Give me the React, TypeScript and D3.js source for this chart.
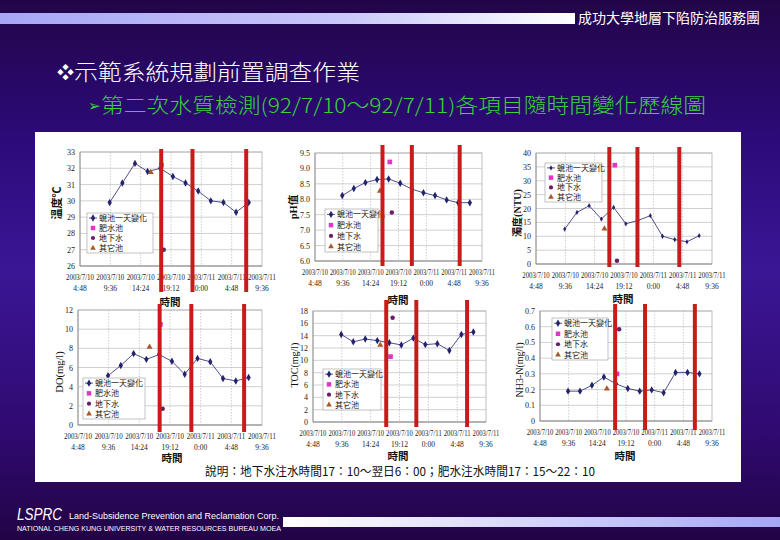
import React from 'react';
import * as d3 from 'd3';

// ---- data ----
const TIMES = [9.5, 11.5, 13.5, 15.5, 17.5, 19.5, 21.5, 23.5, 25.5, 27.5, 29.5, 31.5]; // hours since 2003/7/10 0:00
const X_TICKS = [4.8, 9.6, 14.4, 19.2, 24, 28.8, 33.6];
const X_TICK_DATES = ['2003/7/10', '2003/7/10', '2003/7/10', '2003/7/10', '2003/7/11', '2003/7/11', '2003/7/11'];
const X_TICK_TIMES = ['4:48', '9:36', '14:24', '19:12', '0:00', '4:48', '9:36'];
const SPECIAL_TIMES = [17.7, 18.05, 16.0]; // 肥水池, 地下水, 其它池
const SERIES_NAMES = ['蜆池一天變化', '肥水池', '地下水', '其它池'];

const TEMP = [29.9, 31.1, 32.3, 31.8, 32.0, 31.5, 31.1, 30.6, 30.0, 29.9, 29.3, 29.9];
const TEMP_SPECIAL = [32.2, 27.0, 31.75];
const TEMP_BARS = [17.65, 22.6, 31.1];
const TEMP_TICKS = [26, 27, 28, 29, 30, 31, 32, 33];

const PH = [8.12, 8.35, 8.54, 8.64, 8.66, 8.52, 8.33, 8.21, 8.12, 7.98, 7.89, 7.89];
const PH_SPECIAL = [9.21, 7.57, 8.27];
const PH_BARS = [16.44, 21.5, 29.75];
const PH_TICKS = [6.0, 6.5, 7.0, 7.5, 8.0, 8.5, 9.0, 9.5];

const TURB = [12.6, 18.6, 21.0, 16.2, 20.4, 14.5, 15.7, 17.4, 10.0, 8.8, 8.0, 10.2];
const TURB_SPECIAL = [35.6, 1.2, 12.7];
const TURB_BARS = [16.8, 21.4, 28.25];
const TURB_TICKS = [0, 5, 10, 15, 20, 25, 30, 35, 40];

const DO_VALUES = [5.15, 6.2, 7.45, 6.85, 7.35, 6.65, 5.3, 6.95, 6.6, 4.85, 4.6, 4.95];
const DO_SPECIAL = [10.5, 1.7, 8.15];
const DO_BARS = [17.58, 22.54, 30.8];
const DO_TICKS = [0, 2, 4, 6, 8, 10, 12];

const TOC = [14.2, 13.0, 13.45, 13.2, 12.85, 12.5, 13.6, 12.55, 12.7, 11.6, 14.2, 14.6];
const TOC_SPECIAL = [10.6, 16.9, 12.5];
const TOC_BARS = [16.99, 22.0, 30.45];
const TOC_TICKS = [0, 2, 4, 6, 8, 10, 12, 14, 16, 18];

const NH3 = [0.19, 0.19, 0.227, 0.28, 0.237, 0.207, 0.19, 0.198, 0.18, 0.309, 0.309, 0.30];
const NH3_SPECIAL = [0.30, 0.584, 0.205];
const NH3_BARS = [17.38, 22.39, 30.73];
const NH3_TICKS = [0, 0.1, 0.2, 0.3, 0.4, 0.5, 0.6, 0.7];

const TITLE = '示範系統規劃前置調查作業';
const SUBTITLE = '第二次水質檢測(92/7/10～92/7/11)各項目隨時間變化歷線圖';
const HEADER = '成功大學地層下陷防治服務團';
const NOTE = '說明：地下水注水時間17：10～翌日6：00；肥水注水時間17：15～22：10';

const SERIF = "'Liberation Serif', 'Noto Sans CJK TC', serif";
const CJK = "'Noto Sans CJK TC', sans-serif";
const SANS = "'Liberation Sans', Arial, sans-serif";

const LINE_COLOR = '#23236e';
const PINK = '#e234c6';
const PURPLE = '#6a1d6a';
const BROWN = '#a85a2a';
const RED = '#c81c1c';

type ChartCfg = {
  values: number[];
  special: number[];
  bars: number[];
  ticks: number[];
  fmt: (v: number) => string;
  plot: { l: number; r: number; t: number; b: number };
  ylabel: { x: number; y: number; text: string; size: number; bold: boolean };
  legend: { x: number; y: number; w: number; h: number };
  barY: [number, number];
  xTitle: { x: number; y: number };
  marker: number;
};

const CHARTS: ChartCfg[] = [
  {
    values: TEMP, special: TEMP_SPECIAL, bars: TEMP_BARS, ticks: TEMP_TICKS, fmt: (v) => String(v),
    plot: { l: 80, r: 262, t: 152, b: 266 },
    ylabel: { x: 57, y: 203, text: '溫度℃', size: 11, bold: true },
    legend: { x: 87, y: 213, w: 66, h: 40 }, barY: [149, 292], xTitle: { x: 170, y: 302 }, marker: 16,
  },
  {
    values: PH, special: PH_SPECIAL, bars: PH_BARS, ticks: PH_TICKS, fmt: d3.format('.1f'),
    plot: { l: 315, r: 482, t: 153, b: 261 },
    ylabel: { x: 293, y: 207, text: 'pH值', size: 10.5, bold: true },
    legend: { x: 325, y: 209, w: 53, h: 43 }, barY: [145, 266], xTitle: { x: 398, y: 300 }, marker: 16,
  },
  {
    values: TURB, special: TURB_SPECIAL, bars: TURB_BARS, ticks: TURB_TICKS, fmt: (v) => String(v),
    plot: { l: 536, r: 712, t: 153, b: 264 },
    ylabel: { x: 517, y: 213, text: '濁度(NTU)', size: 10, bold: true },
    legend: { x: 545, y: 163, w: 57, h: 39 }, barY: [147, 267], xTitle: { x: 623, y: 299 }, marker: 8,
  },
  {
    values: DO_VALUES, special: DO_SPECIAL, bars: DO_BARS, ticks: DO_TICKS, fmt: (v) => String(v),
    plot: { l: 78, r: 262, t: 310, b: 425 },
    ylabel: { x: 59, y: 372, text: 'DO(mg/l)', size: 10.5, bold: false },
    legend: { x: 83, y: 378, w: 62, h: 41 }, barY: [304, 432], xTitle: { x: 172, y: 458 }, marker: 16,
  },
  {
    values: TOC, special: TOC_SPECIAL, bars: TOC_BARS, ticks: TOC_TICKS, fmt: (v) => String(v),
    plot: { l: 313, r: 486, t: 311, b: 422 },
    ylabel: { x: 294, y: 365, text: 'TOC(mg/l)', size: 10, bold: false },
    legend: { x: 323, y: 369, w: 58, h: 41 }, barY: [300, 427], xTitle: { x: 398, y: 456 }, marker: 16,
  },
  {
    values: NH3, special: NH3_SPECIAL, bars: NH3_BARS, ticks: NH3_TICKS, fmt: (v) => (v === 0 ? '0' : d3.format('.1f')(v)),
    plot: { l: 540, r: 712, t: 311, b: 421 },
    ylabel: { x: 519, y: 370, text: 'NH3-N(mg/l)', size: 10, bold: false },
    legend: { x: 552, y: 318, w: 56, h: 42 }, barY: [304, 430], xTitle: { x: 625, y: 456 }, marker: 16,
  },
];

const SPECIAL_SYMBOLS = [d3.symbolSquare, d3.symbolCircle, d3.symbolTriangle];
const SPECIAL_COLORS = [PINK, PURPLE, BROWN];

function Chart({ cfg }: { cfg: ChartCfg }) {
  const { plot } = cfg;
  const x = d3.scaleLinear().domain([X_TICKS[0], X_TICKS[X_TICKS.length - 1]]).range([plot.l, plot.r]);
  const y = d3.scaleLinear().domain([cfg.ticks[0], cfg.ticks[cfg.ticks.length - 1]]).range([plot.b, plot.t]);
  const line = d3.line<number>().x((_, i) => x(TIMES[i])).y((v) => y(v));
  const diamond = d3.symbol().type(d3.symbolDiamond).size(cfg.marker)() || '';
  const lg = cfg.legend;
  const rowH = lg.h / 4;
  const step = x(X_TICKS[1]) - x(X_TICKS[0]);
  const dateLen = Math.min(28, step - 2);
  return (
    <g>
      {cfg.ticks.map((t, i) => (
        <line key={'h' + i} x1={plot.l} x2={plot.r} y1={y(t)} y2={y(t)} stroke="#c4c4c4" strokeWidth={0.8} />
      ))}
      {X_TICKS.slice(1, -1).map((t, i) => (
        <line key={'v' + i} x1={x(t)} x2={x(t)} y1={plot.t} y2={plot.b} stroke="#b8b8b8" strokeWidth={0.7} strokeDasharray="1.5,1.5" />
      ))}
      <rect x={plot.l} y={plot.t} width={plot.r - plot.l} height={plot.b - plot.t} fill="none" stroke="#b0b0b0" strokeWidth={0.8} />
      <line x1={plot.l} x2={plot.l} y1={plot.t} y2={plot.b} stroke="#888" strokeWidth={0.8} />
      <line x1={plot.l} x2={plot.r} y1={plot.b} y2={plot.b} stroke="#888" strokeWidth={0.8} />
      {cfg.ticks.map((t, i) => (
        <text key={'yt' + i} x={plot.l - 5} y={y(t) + 3} fontSize={8} fontFamily={SERIF} textAnchor="end" fill="#222">
          {cfg.fmt(t)}
        </text>
      ))}
      {X_TICKS.map((t, i) => (
        <g key={'xt' + i}>
          <text x={x(t) - dateLen / 2} y={plot.b + 14} fontSize={7.5} fontFamily={SERIF} fill="#222"
            textLength={dateLen} lengthAdjust="spacingAndGlyphs">{X_TICK_DATES[i]}</text>
          <text x={x(t)} y={plot.b + 24.5} fontSize={7.5} fontFamily={SERIF} textAnchor="middle" fill="#222">{X_TICK_TIMES[i]}</text>
        </g>
      ))}
      <path d={line(cfg.values) || ''} fill="none" stroke={LINE_COLOR} strokeWidth={0.8} />
      {cfg.values.map((v, i) => (
        <path key={'m' + i} d={diamond} transform={`translate(${x(TIMES[i])},${y(v)})`} fill={LINE_COLOR} />
      ))}
      {cfg.special.map((v, i) => (
        <path key={'s' + i} d={d3.symbol().type(SPECIAL_SYMBOLS[i]).size(i === 0 ? 22 : 16)() || ''}
          transform={`translate(${x(SPECIAL_TIMES[i])},${y(v)})`} fill={SPECIAL_COLORS[i]} />
      ))}
      <rect x={lg.x} y={lg.y} width={lg.w} height={lg.h} fill="#fff" stroke="#a8a8a8" strokeWidth={0.7} />
      {SERIES_NAMES.map((name, i) => {
        const cy = lg.y + rowH * (i + 0.5);
        const mx = lg.x + 6;
        return (
          <g key={'lg' + i}>
            {i === 0 ? (
              <g>
                <line x1={mx - 4} x2={mx + 4} y1={cy} y2={cy} stroke={LINE_COLOR} strokeWidth={0.8} />
                <path d={diamond} transform={`translate(${mx},${cy})`} fill={LINE_COLOR} />
              </g>
            ) : (
              <path d={d3.symbol().type(SPECIAL_SYMBOLS[i - 1]).size(i === 1 ? 20 : 14)() || ''}
                transform={`translate(${mx},${cy})`} fill={SPECIAL_COLORS[i - 1]} />
            )}
            <text x={mx + 6} y={cy + 3} fontSize={8} fontFamily={CJK} fill="#111">{name}</text>
          </g>
        );
      })}
      {cfg.bars.map((t, i) => (
        <rect key={'b' + i} x={x(t) - 2} y={cfg.barY[0]} width={4} height={cfg.barY[1] - cfg.barY[0]} fill={RED} />
      ))}
      <text x={cfg.xTitle.x} y={cfg.xTitle.y + 4} fontSize={10.5} fontWeight="bold" fontFamily={CJK} textAnchor="middle" fill="#111">時間</text>
      <text transform={`translate(${cfg.ylabel.x},${cfg.ylabel.y}) rotate(-90)`} y={4} fontSize={cfg.ylabel.size}
        fontWeight={cfg.ylabel.bold ? 'bold' : 'normal'} fontFamily={SERIF} textAnchor="middle" fill="#111">
        {cfg.ylabel.text}
      </text>
    </g>
  );
}

export default function App() {
  return (
    <svg width={780} height={540} style={{ position: 'fixed', left: 0, top: 0 }} xmlns="http://www.w3.org/2000/svg">
      <defs>
        <linearGradient id="bg" x1="0" y1="0" x2="0" y2="1">
          <stop offset="0" stopColor="#220548" />
          <stop offset="0.25" stopColor="#2c0a78" />
          <stop offset="0.5" stopColor="#3a1696" />
          <stop offset="0.8" stopColor="#300a70" />
          <stop offset="1" stopColor="#220346" />
        </linearGradient>
        <linearGradient id="hdr" x1="0" y1="0" x2="1" y2="0">
          <stop offset="0" stopColor="#a6a6f6" />
          <stop offset="0.6" stopColor="#c8c8fa" />
          <stop offset="1" stopColor="#ffffff" />
        </linearGradient>
        <linearGradient id="ftr" x1="0" y1="0" x2="1" y2="0">
          <stop offset="0" stopColor="#ffffff" />
          <stop offset="0.5" stopColor="#d4d4fa" />
          <stop offset="1" stopColor="#a6a6f6" />
        </linearGradient>
      </defs>
      <rect x={0} y={0} width={780} height={540} fill="url(#bg)" />
      <rect x={0} y={13} width={575} height={11} fill="url(#hdr)" />
      <text x={578} y={23} fontSize={14} fontFamily={CJK} fill="#fff" textLength={182} lengthAdjust="spacingAndGlyphs">{HEADER}</text>
      <text x={57} y={80} fontSize={22} fontFamily={CJK} fontWeight={300} fill="#fff">
        <tspan fontSize={17} dy={-1}>❖</tspan>
        <tspan dy={1} textLength={286} lengthAdjust="spacingAndGlyphs">{TITLE}</tspan>
      </text>
      <text x={88} y={113} fontSize={20} fontFamily={CJK} fontWeight={300} fill="#3ed03e">
        <tspan fontSize={15} dy={-2}>➢</tspan>
        <tspan dy={2} textLength={605} lengthAdjust="spacingAndGlyphs">{SUBTITLE}</tspan>
      </text>
      <rect x={35} y={132} width={706} height={350} fill="#fff" />
      {CHARTS.map((c, i) => <Chart key={i} cfg={c} />)}
      <text x={400} y={476} fontSize={12} fontFamily={CJK} textAnchor="middle" fill="#111" textLength={390} lengthAdjust="spacingAndGlyphs">{NOTE}</text>
      <rect x={283} y={517} width={497} height={10} fill="url(#ftr)" />
      <text x={17} y={520} fontSize={17} fontStyle="italic" fontFamily={SANS} fill="#fff" textLength={45} lengthAdjust="spacingAndGlyphs">LSPRC</text>
      <text x={69} y={519} fontSize={8.5} fontFamily={SANS} fill="#fff" textLength={210} lengthAdjust="spacingAndGlyphs">Land-Subsidence Prevention and Reclamation Corp.</text>
      <text x={17} y={531} fontSize={6.5} fontFamily={SANS} fill="#fff" textLength={264} lengthAdjust="spacingAndGlyphs">NATIONAL CHENG KUNG UNIVERSITY &amp; WATER RESOURCES BUREAU  MOEA</text>
    </svg>
  );
}
